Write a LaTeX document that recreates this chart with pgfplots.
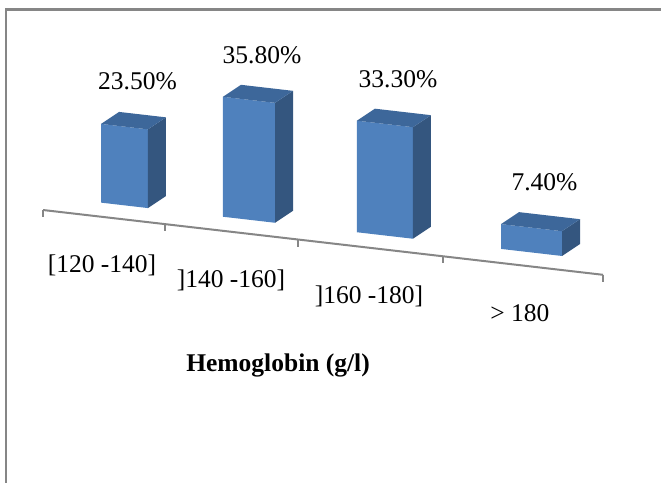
\documentclass[border=0pt]{standalone}
\usepackage{fontspec}
\setmainfont{Liberation Serif}
\usepackage{pgfplots}
\pgfplotsset{compat=1.18}
\usetikzlibrary{calc}
\definecolor{frontc}{HTML}{4F81BD}
\definecolor{sidec}{HTML}{34567F}
\definecolor{topc}{HTML}{3D679A}
\definecolor{axc}{HTML}{868686}
\begin{document}
\begin{tikzpicture}
\begin{axis}[hide axis, clip=false,
  x={(140pt,-16.2pt)}, y={(18pt,12pt)}, z={(0pt,3.35pt)},
  font=\fontsize{25.5}{30}\selectfont]
% axis line and ticks
\addplot3[axc, line width=2pt, mark=none] coordinates {(0,0,0) (4,0,0)};
\addplot3[axc, line width=2pt, mark=none] coordinates {(0,0,0) (0,0,-2.1)};
\addplot3[axc, line width=2pt, mark=none] coordinates {(0.871,0,0) (0.871,0,-2.1)};
\addplot3[axc, line width=2pt, mark=none] coordinates {(1.821,0,0) (1.821,0,-2.1)};
\addplot3[axc, line width=2pt, mark=none] coordinates {(2.857,0,0) (2.857,0,-2.1)};
\addplot3[axc, line width=2pt, mark=none] coordinates {(4,0,0) (4,0,-2.1)};
% bar 1: 23.5
\addplot3[fill=frontc, draw=none, mark=none] coordinates {(0.286,1,0) (0.621,1,0) (0.621,1,23.5) (0.286,1,23.5)};
\addplot3[fill=sidec, draw=none, mark=none] coordinates {(0.621,1,0) (0.621,2,0) (0.621,2,23.5) (0.621,1,23.5)};
\addplot3[fill=topc, draw=none, mark=none] coordinates {(0.286,1,23.5) (0.621,1,23.5) (0.621,2,23.5) (0.286,2,23.5)};
% bar 2: 35.8
\addplot3[fill=frontc, draw=none, mark=none] coordinates {(1.157,1,0) (1.529,1,0) (1.529,1,35.8) (1.157,1,35.8)};
\addplot3[fill=sidec, draw=none, mark=none] coordinates {(1.529,1,0) (1.529,2,0) (1.529,2,35.8) (1.529,1,35.8)};
\addplot3[fill=topc, draw=none, mark=none] coordinates {(1.157,1,35.8) (1.529,1,35.8) (1.529,2,35.8) (1.157,2,35.8)};
% bar 3: 33.3
\addplot3[fill=frontc, draw=none, mark=none] coordinates {(2.114,1,0) (2.514,1,0) (2.514,1,33.3) (2.114,1,33.3)};
\addplot3[fill=sidec, draw=none, mark=none] coordinates {(2.514,1,0) (2.514,2,0) (2.514,2,33.3) (2.514,1,33.3)};
\addplot3[fill=topc, draw=none, mark=none] coordinates {(2.114,1,33.3) (2.514,1,33.3) (2.514,2,33.3) (2.114,2,33.3)};
% bar 4: 7.4
\addplot3[fill=frontc, draw=none, mark=none] coordinates {(3.143,1,0) (3.579,1,0) (3.579,1,7.4) (3.143,1,7.4)};
\addplot3[fill=sidec, draw=none, mark=none] coordinates {(3.579,1,0) (3.579,2,0) (3.579,2,7.4) (3.579,1,7.4)};
\addplot3[fill=topc, draw=none, mark=none] coordinates {(3.143,1,7.4) (3.579,1,7.4) (3.579,2,7.4) (3.143,2,7.4)};
% value labels
\addplot3[draw=none, mark=none, nodes near coords, point meta=explicit symbolic,
  every node near coord/.style={anchor=center, yshift=39pt, xshift=4pt, font=\fontsize{25.5}{30}\selectfont}]
  coordinates {(0.4535,1.5,23.5) [23.50\%] (1.343,1.5,35.8) [35.80\%] (2.314,1.5,33.3) [33.30\%] (3.361,1.5,7.4) [7.40\%]};
% category labels
\node at (axis cs:0.421,0,-14.4) {[120 -140]};
\node at (axis cs:1.343,0,-14.4) {]140 -160]};
\node at (axis cs:2.329,0,-14.6) {]160 -180]};
\node at (axis cs:3.407,0,-14.3) {> 180};
\node[font=\bfseries\fontsize{25.5}{30}\selectfont] at (axis cs:1.679,0,-38.4) {Hemoglobin (g/l)};
\coordinate (O) at (axis cs:0,0,0);
\end{axis}
\pgfresetboundingbox
\path[use as bounding box] ($(O)+(-43pt,-272pt)$) rectangle ($(O)+(618pt,210pt)$);
\draw[axc, line width=2.3pt] ($(O)+(-37.2pt,-280pt)$) -- ($(O)+(-37.2pt,200.5pt)$) -- ($(O)+(625pt,200.5pt)$);
\end{tikzpicture}
\end{document}
